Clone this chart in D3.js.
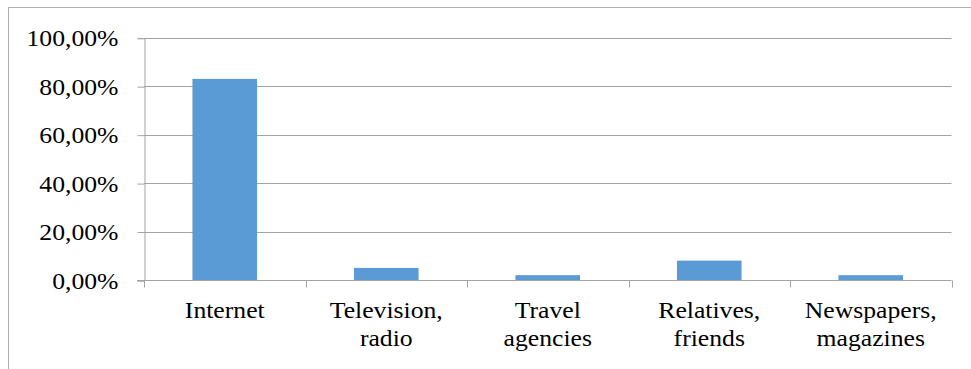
<!DOCTYPE html>
<html>
<head>
<meta charset="utf-8">
<script src="https://cdn.jsdelivr.net/npm/d3@7"></script>
<style>
  body { margin: 0; background: #fff; }
</style>
</head>
<body>
<svg id="chart" width="971" height="369"></svg>
<script>
// data
const categories = ["Internet", "Television,\nradio", "Travel\nagencies", "Relatives,\nfriends", "Newspapers,\nmagazines"];
const shares = [0.83, 0.05, 0.02, 0.08, 0.02];
const yTicks = [0, 0.2, 0.4, 0.6, 0.8, 1];

const width = 971, height = 369;
const margin = {top: 37.7, right: 19.5, bottom: 89, left: 144};
const gridColor = "#a3a3a3";
const barColor = "#5b9bd5";
const fontFamily = "'Liberation Serif', 'Times New Roman', serif";
const stretch = 1.07; // the picture's text is a bit wider than plain Times

const svg = d3.select("#chart");

// outer chart frame (cut off on the right and bottom)
svg.append("rect")
    .attr("x", 8.5).attr("y", 7.5)
    .attr("width", width).attr("height", height)
    .attr("fill", "none")
    .attr("stroke", "#b0b0b0");

const x = d3.scaleBand()
    .domain(categories)
    .range([margin.left, width - margin.right])
    .paddingInner(0.6)
    .paddingOuter(0.3);

const y = d3.scaleLinear()
    .domain([0, 1])
    .range([height - margin.bottom, margin.top]);

const locale = d3.formatLocale({decimal: ",", thousands: ".", grouping: [3], currency: ["", ""]});
const pct = locale.format(".2%");

// gridlines
svg.append("g")
    .selectAll("line")
    .data(yTicks.filter(d => d > 0))
    .enter()
    .append("line")
    .attr("x1", margin.left).attr("x2", width - margin.right)
    .attr("y1", d => Math.round(y(d)) + 0.5).attr("y2", d => Math.round(y(d)) + 0.5)
    .attr("stroke", gridColor);

// y axis
const yAxis = d3.axisLeft(y)
    .tickValues(yTicks)
    .tickFormat(pct)
    .tickSize(7)
    .tickPadding(19);

const yG = svg.append("g")
    .attr("transform", `translate(${margin.left + 0.5}, 0.5)`)
    .call(yAxis)
    .attr("font-family", null)
    .attr("font-size", null);
yG.select(".domain").attr("stroke", gridColor);
yG.selectAll(".tick line").attr("stroke", gridColor);
yG.selectAll(".tick text")
    .attr("x", 0)
    .attr("transform", `translate(-26, 0) scale(${stretch}, 1)`)
    .style("font-family", fontFamily)
    .style("font-size", "24px")
    .attr("fill", "#000");

// x axis line and ticks at category boundaries
const step = x.step();
const bounds = d3.range(categories.length + 1).map(i => margin.left + i * step);
const base = Math.round(y(0)) + 0.5;
svg.append("line")
    .attr("x1", margin.left - 7).attr("x2", width - margin.right)
    .attr("y1", base).attr("y2", base)
    .attr("stroke", gridColor);
svg.append("g")
    .selectAll("line")
    .data(bounds)
    .enter()
    .append("line")
    .attr("x1", d => Math.round(d) + 0.5).attr("x2", d => Math.round(d) + 0.5)
    .attr("y1", base).attr("y2", base + 7)
    .attr("stroke", gridColor);

// bars
svg.append("g")
    .selectAll("rect")
    .data(categories)
    .enter()
    .append("rect")
    .attr("x", d => x(d))
    .attr("y", (d, i) => y(shares[i]))
    .attr("width", x.bandwidth())
    .attr("height", (d, i) => y(0) - y(shares[i]))
    .attr("fill", barColor);

// category labels, two lines where needed
const labels = svg.append("g")
    .selectAll("text")
    .data(categories)
    .enter()
    .append("text")
    .attr("text-anchor", "middle")
    .style("font-family", fontFamily)
    .style("font-size", "24px")
    .attr("fill", "#000")
    .attr("transform", d => `translate(${x(d) + x.bandwidth() / 2}, 318) scale(${stretch}, 1)`);

labels.selectAll("tspan")
    .data(d => d.split("\n"))
    .enter()
    .append("tspan")
    .attr("x", 0)
    .attr("y", (d, i) => i * 28)
    .text(d => d);
</script>
</body>
</html>
